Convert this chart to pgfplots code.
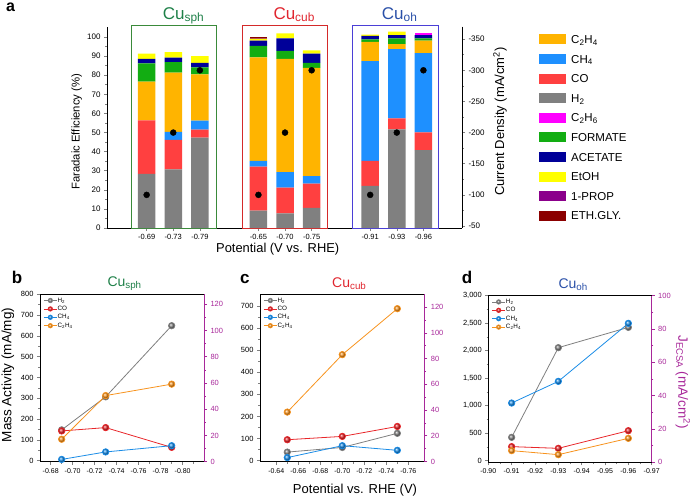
\documentclass[border=0pt]{standalone}
\usepackage{pgfplots}
\pgfplotsset{compat=1.18}
\usepackage{fontspec}
\setmainfont{Liberation Sans}

\definecolor{cH}{HTML}{808080}
\definecolor{cCO}{HTML}{FF4040}
\definecolor{cCH}{HTML}{1E90FF}
\definecolor{cCC}{HTML}{FFB400}
\definecolor{cEth}{HTML}{FF00FF}
\definecolor{cForm}{HTML}{12AD12}
\definecolor{cAce}{HTML}{000099}
\definecolor{cEtOH}{HTML}{FFFF00}
\definecolor{cProp}{HTML}{8B008B}
\definecolor{cGly}{HTML}{8B0000}
\definecolor{lH}{HTML}{7F7F7F}
\definecolor{lCO}{HTML}{E8262A}
\definecolor{lCH}{HTML}{1A8CE6}
\definecolor{lCC}{HTML}{F7931E}
\definecolor{mag}{HTML}{A8289A}
\definecolor{tsph}{HTML}{1E8048}
\definecolor{tcub}{HTML}{E0262F}
\definecolor{toh}{HTML}{2A50A8}
\definecolor{bsph}{HTML}{3A8A3A}
\definecolor{bcub}{HTML}{D42A2A}
\definecolor{boh}{HTML}{4B3FD6}

\pgfplotsset{
  base/.style={scale only axis, anchor=south west,
    /pgf/number format/assume math mode=true,
    tick align=outside, major tick length=3pt, minor tick length=1.8pt,
    tick style={line width=0.6pt}, axis line style={line width=0.8pt},
    clip=false},
  small/.style={base,
    x dir=reverse,
    xticklabel style={font=\fontsize{7}{8}\selectfont, /pgf/number format/.cd, fixed, fixed zerofill, precision=2},
    yticklabel style={font=\fontsize{7.5}{8}\selectfont},
    minor x tick num=1, minor y tick num=1},
  leftax/.style={small, xtick pos=left, ytick pos=left,
    legend style={at={(0.02,0.985)}, anchor=north west, draw=none, fill=none,
      font=\fontsize{6.3}{6.5}\selectfont, row sep=1.4pt, inner sep=0pt,
      nodes={inner sep=0.4pt, text height=4.6pt, text depth=1.6pt}},
    legend cell align=left,
    legend image code/.code={\draw[mark repeat=2,mark phase=2,#1] plot coordinates {(0pt,0pt)(6.5pt,0pt)(13pt,0pt)};},
    legend image post style={mark size=2.2pt}},
  rightax/.style={small, axis x line=none, axis y line*=right,
    axis line style={mag, line width=0.8pt}, tick style={mag, line width=0.6pt},
    yticklabel style={mag}},
  sH/.style={lH, line width=0.8pt, mark=ball, mark size=3.2pt, mark options={ball color=lH}},
  sCO/.style={lCO, line width=0.8pt, mark=ball, mark size=3.2pt, mark options={ball color=lCO}},
  sCH/.style={lCH, line width=0.8pt, mark=ball, mark size=3.2pt, mark options={ball color=lCH}},
  sCC/.style={lCC, line width=0.8pt, mark=ball, mark size=3.2pt, mark options={ball color=lCC}},
}

\begin{document}
\begin{tikzpicture}
\useasboundingbox (0,0) rectangle (690pt,499pt);

% ---------------- panel a ----------------
\begin{axis}[base, at={(107pt,271pt)}, width=355pt, height=201.3pt,
  xmin=-0.49, xmax=12.85, ymin=0, ymax=105.4,
  axis x line*=bottom, axis y line*=left,
  ybar stacked, bar width=17.5pt,
  xtick={1,2,3,5.2,6.2,7.2,9.4,10.4,11.4},
  xticklabels={-0.69,-0.73,-0.79,-0.65,-0.70,-0.75,-0.91,-0.93,-0.96},
  ytick={0,10,...,100}, minor y tick num=1,
  xticklabel style={font=\fontsize{7.5}{8}\selectfont},
  yticklabel style={font=\fontsize{8}{9}\selectfont},
  ]
\addplot[fill=cH, draw=none] coordinates {(1,28.3)(2,30.7)(3,47.3)(5.2,9.1)(6.2,7.7)(7.2,10.6)(9.4,22.1)(10.4,51.7)(11.4,40.8)};
\addplot[fill=cCO, draw=none] coordinates {(1,28.1)(2,15.4)(3,4.2)(5.2,23.0)(6.2,13.4)(7.2,12.6)(9.4,13.1)(10.4,5.7)(11.4,9.3)};
\addplot[fill=cCH, draw=none] coordinates {(1,0)(2,4.2)(3,4.7)(5.2,3.0)(6.2,8.1)(7.2,3.9)(9.4,52.2)(10.4,36.2)(11.4,41.4)};
\addplot[fill=cCC, draw=none] coordinates {(1,20.2)(2,31.0)(3,24.3)(5.2,54.3)(6.2,59.4)(7.2,56.8)(9.4,10.1)(10.4,2.7)(11.4,6.6)};
\addplot[fill=cForm, draw=none] coordinates {(1,9.6)(2,5.5)(3,3.6)(5.2,5.9)(6.2,4.1)(7.2,2.6)(9.4,1.3)(10.4,3.0)(11.4,1.2)};
\addplot[fill=cAce, draw=none] coordinates {(1,2.3)(2,2.4)(3,2.4)(5.2,2.8)(6.2,6.6)(7.2,4.8)(9.4,1.8)(10.4,1.7)(11.4,1.7)};
\addplot[fill=cEtOH, draw=none] coordinates {(1,2.8)(2,2.9)(3,3.5)(5.2,1.1)(6.2,2.6)(7.2,1.7)(9.4,0.7)(10.4,1.8)(11.4,0)};
\addplot[fill=cProp, draw=none] coordinates {(1,0)(2,0)(3,0)(5.2,0.5)(6.2,0)(7.2,0)(9.4,0)(10.4,0)(11.4,0)};
\addplot[fill=cGly, draw=none] coordinates {(1,0)(2,0)(3,0)(5.2,0.5)(6.2,0)(7.2,0)(9.4,0)(10.4,0)(11.4,0)};
\addplot[fill=cEth, draw=none] coordinates {(1,0)(2,0)(3,0)(5.2,0)(6.2,0)(7.2,0)(9.4,0)(10.4,0)(11.4,1.2)};
\draw[bsph, line width=0.9pt] (axis cs:0.41,0) rectangle (axis cs:3.61,106.3);
\draw[bcub, line width=0.9pt] (axis cs:4.59,0) rectangle (axis cs:7.80,106.3);
\draw[boh, line width=0.9pt] (axis cs:8.74,0) rectangle (axis cs:11.96,106.3);
\end{axis}

\begin{axis}[base, at={(107pt,271pt)}, width=355pt, height=201.3pt,
  xmin=-0.49, xmax=12.85, ymin=-370, ymax=-46.8, y dir=reverse,
  axis x line=none, axis y line*=right,
  ytick={-350,-300,...,-50}, minor y tick num=1,
  yticklabel style={font=\fontsize{8}{9}\selectfont},
  ]
\addplot[only marks, mark=*, black, mark size=3pt] coordinates {(1,-100)(2,-200)(3,-300)(5.2,-100)(6.2,-200)(7.2,-300)(9.4,-100)(10.4,-200)(11.4,-300)};
\end{axis}

\node[font=\bfseries\fontsize{16}{18}\selectfont, anchor=base west, inner sep=0pt] at (6pt,487pt) {a};
\node[font=\fontsize{17}{19}\selectfont, tsph, anchor=base west, inner sep=0pt] at (162.7pt,479.7pt) {Cu\textsubscript{sph}};
\node[font=\fontsize{17}{19}\selectfont, tcub, anchor=base west, inner sep=0pt] at (273.3pt,479.7pt) {Cu\textsubscript{cub}};
\node[font=\fontsize{17}{19}\selectfont, toh, anchor=base west, inner sep=0pt] at (381.7pt,479.7pt) {Cu\textsubscript{oh}};
\node[font=\fontsize{11.3}{13}\selectfont, rotate=90] at (76.7pt,367.3pt) {Faradaic Efficiency (\%)};
\node[font=\fontsize{13}{15}\selectfont, rotate=90] at (500pt,377.3pt) {Current Density (mA/cm\textsuperscript{2})};
\node[font=\fontsize{12.9}{15}\selectfont] at (277.7pt,250pt) {Potential (V vs. RHE)};

\foreach \c/\t [count=\i from 0] in {cCC/C\textsubscript{2}H\textsubscript{4}, cCH/CH\textsubscript{4}, cCO/CO, cH/H\textsubscript{2}, cEth/C\textsubscript{2}H\textsubscript{6}, cForm/FORMATE, cAce/ACETATE, cEtOH/EtOH, cProp/1-PROP, cGly/ETH.GLY.}{
  \pgfmathsetmacro{\yy}{499-39.3-19.62*\i}
  \fill[\c] (539pt,\yy pt-5pt) rectangle (566pt,\yy pt+5pt);
  \node[font=\fontsize{11.5}{13}\selectfont, anchor=base west, inner sep=0pt] at (571pt,\yy pt-4.1pt) {\t};
}

% ---------------- panel b ----------------
\begin{axis}[leftax, at={(40pt,37.3pt)}, width=164pt, height=167.4pt,
  xmin=-0.8194, xmax=-0.6703, ymin=-5, ymax=800,
  xtick={-0.82,-0.80,...,-0.68}, ytick={0,100,...,800}]
\addplot[sH] coordinates {(-0.69,148)(-0.73,307)(-0.79,649)};
\addlegendentry{H\textsubscript{2}}
\addplot[sCO] coordinates {(-0.69,143)(-0.73,159)(-0.79,64)};
\addlegendentry{CO}
\addplot[sCH] coordinates {(-0.69,6)(-0.73,42)(-0.79,72)};
\addlegendentry{CH\textsubscript{4}}
\addplot[sCC] coordinates {(-0.69,103)(-0.73,313)(-0.79,368)};
\addlegendentry{C\textsubscript{2}H\textsubscript{4}}
\end{axis}
\begin{axis}[rightax, at={(40pt,37.3pt)}, width=164pt, height=167.4pt,
  xmin=-0.8194, xmax=-0.6703, ymin=0, ymax=127.6, ytick={0,20,...,120}]
\end{axis}

% ---------------- panel c ----------------
\begin{axis}[leftax, at={(260pt,37.3pt)}, width=164.3pt, height=167.4pt,
  xmin=-0.7745, xmax=-0.6252, ymin=-4.5, ymax=753,
  xtick={-0.76,-0.74,...,-0.64}, ytick={0,100,...,700}]
\addplot[sH] coordinates {(-0.65,39)(-0.70,60)(-0.75,124)};
\addlegendentry{H\textsubscript{2}}
\addplot[sCO] coordinates {(-0.65,95)(-0.70,110)(-0.75,155)};
\addlegendentry{CO}
\addplot[sCH] coordinates {(-0.65,14)(-0.70,68)(-0.75,47)};
\addlegendentry{CH\textsubscript{4}}
\addplot[sCC] coordinates {(-0.65,220)(-0.70,480)(-0.75,688)};
\addlegendentry{C\textsubscript{2}H\textsubscript{4}}
\end{axis}
\begin{axis}[rightax, at={(260pt,37.3pt)}, width=164.3pt, height=167.4pt,
  xmin=-0.7745, xmax=-0.6252, ymin=-0.2, ymax=130, ytick={0,20,...,120}]
\end{axis}

% ---------------- panel d ----------------
\begin{axis}[leftax, at={(488.3pt,36.7pt)}, width=163.4pt, height=166.6pt,
  xmin=-0.97, xmax=-0.90, ymin=-30, ymax=3000,
  xtick={-0.97,-0.96,...,-0.90}, ytick={0,500,...,3000},
  yticklabel style={/pgf/number format/1000 sep={,}}]
\addplot[sH] coordinates {(-0.91,424)(-0.93,2055)(-0.96,2424)};
\addlegendentry{H\textsubscript{2}}
\addplot[sCO] coordinates {(-0.91,255)(-0.93,224)(-0.96,545)};
\addlegendentry{CO}
\addplot[sCH] coordinates {(-0.91,1048)(-0.93,1442)(-0.96,2497)};
\addlegendentry{CH\textsubscript{4}}
\addplot[sCC] coordinates {(-0.91,182)(-0.93,109)(-0.96,406)};
\addlegendentry{C\textsubscript{2}H\textsubscript{4}}
\end{axis}
\begin{axis}[rightax, at={(488.3pt,36.7pt)}, width=163.4pt, height=166.6pt,
  xmin=-0.97, xmax=-0.90, ymin=0, ymax=100, ytick={0,20,...,100}]
\end{axis}

\node[font=\bfseries\fontsize{17}{19}\selectfont, anchor=base west, inner sep=0pt] at (11.7pt,215.7pt) {b};
\node[font=\bfseries\fontsize{17}{19}\selectfont, anchor=base west, inner sep=0pt] at (240pt,215.7pt) {c};
\node[font=\bfseries\fontsize{17}{19}\selectfont, anchor=base west, inner sep=0pt] at (461.7pt,215.7pt) {d};
\node[font=\fontsize{14}{16}\selectfont, tsph, anchor=base west, inner sep=0pt] at (107.3pt,213pt) {Cu\textsubscript{sph}};
\node[font=\fontsize{14}{16}\selectfont, tcub, anchor=base west, inner sep=0pt] at (332pt,211.7pt) {Cu\textsubscript{cub}};
\node[font=\fontsize{14}{16}\selectfont, toh, anchor=base west, inner sep=0pt] at (558.3pt,210.7pt) {Cu\textsubscript{oh}};
\node[font=\fontsize{13.5}{15}\selectfont, rotate=90] at (8pt,124pt) {Mass Activity (mA/mg)};
\node[font=\fontsize{13.5}{15}\selectfont, rotate=-90, mag] at (683pt,117pt) {J\textsubscript{ECSA} (mA/cm\textsuperscript{2})};
\node[font=\fontsize{13}{15}\selectfont] at (355pt,9pt) {Potential vs. RHE (V)};
\end{tikzpicture}
\end{document}
